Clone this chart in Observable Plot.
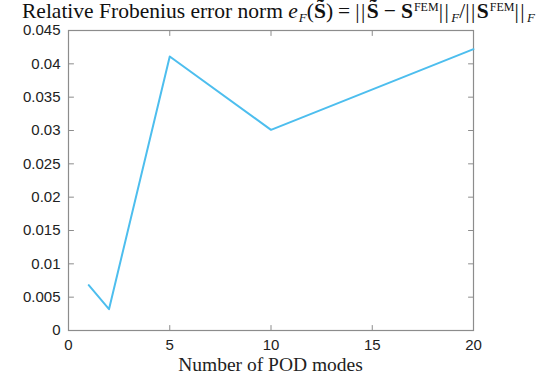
<!DOCTYPE html>
<html><head><meta charset="utf-8">
<script src="https://cdn.jsdelivr.net/npm/d3@7"></script>
<script src="https://cdn.jsdelivr.net/npm/@observablehq/plot@0.6"></script>
<style>
body{margin:0;background:#fff;width:540px;height:377px;overflow:hidden}
#title{height:20px;font-family:"Liberation Serif",serif;font-size:21.5px;line-height:23px;white-space:nowrap;padding-left:22px;color:#111;overflow:visible;position:relative;z-index:2}
#title .s{font-size:13px;position:relative;top:4px;padding-left:1px}
#title .p{font-size:12px;position:relative;top:-7px;padding-left:1px}
#title .op{padding:0 5px}
#title .b{letter-spacing:1.5px}
#xlabel{height:25px;font-family:"Liberation Serif",serif;font-size:19.5px;line-height:25px;text-align:center;padding-left:1px;color:#222}
#chart svg{overflow:visible}
</style></head>
<body>
<div id="title">Relative Frobenius error norm <i>e</i><span class="s"><i>F</i></span>(<b>S̃</b>)<span class="op">=</span><span class="b">||</span><b>S̃</b><span class="op">−</span><b>S</b><span class="p">FEM</span><span class="b">||</span><span class="s"><i>F</i></span>/<span class="b">||</span><b>S</b><span class="p">FEM</span><span class="b">||</span><span class="s"><i>F</i></span></div>
<div id="chart"></div>
<div id="xlabel">Number of POD modes</div>
<script>
const modes = [1, 2, 5, 10, 20];
const errors = [0.0068, 0.0032, 0.0411, 0.0301, 0.0422];
const xTicks = [0, 5, 10, 15, 20];
const yTicks = [0, 0.005, 0.01, 0.015, 0.02, 0.025, 0.03, 0.035, 0.04, 0.045];
const yTickLabels = ["0", "0.005", "0.01", "0.015", "0.02", "0.025", "0.03", "0.035", "0.04", "0.045"];

const data = modes.map((m, i) => ({m, e: errors[i]}));
const axisColor = "#8c8c8c";
const tickShape = {draw(context, l) { context.moveTo(0, 0); context.lineTo(0, -l); }};
const tickOpts = {length: 5, anchor: "start", shape: tickShape, stroke: axisColor, strokeWidth: 1};
const chart = Plot.plot({
  width: 540, height: 332,
  marginLeft: 68, marginRight: 67, marginTop: 10, marginBottom: 22,
  x: {domain: [0, 20]},
  y: {domain: [0, 0.045]},
  style: {fontFamily: "'Liberation Sans', Arial, sans-serif", fontSize: "15px", color: "#222"},
  marks: [
    Plot.axisX(xTicks, {anchor: "bottom", tickSize: 0, tickPadding: 9, label: null, fill: "#222"}),
    Plot.axisY(yTicks, {anchor: "left", tickSize: 0, tickPadding: 8, label: null, tickFormat: (d, i) => yTickLabels[i], fill: "#222"}),
    Plot.vector(xTicks, {x: d => d, frameAnchor: "bottom", rotate: 0, ...tickOpts}),
    Plot.vector(xTicks, {x: d => d, frameAnchor: "top", rotate: 180, ...tickOpts}),
    Plot.vector(yTicks, {y: d => d, frameAnchor: "left", rotate: 90, ...tickOpts}),
    Plot.vector(yTicks, {y: d => d, frameAnchor: "right", rotate: -90, ...tickOpts}),
    Plot.frame({stroke: axisColor, strokeWidth: 1.2}),
    Plot.line(data, {x: "m", y: "e", stroke: "#4dbeee", strokeWidth: 2})
  ]
});
document.getElementById("chart").appendChild(chart);
</script>
</body></html>
